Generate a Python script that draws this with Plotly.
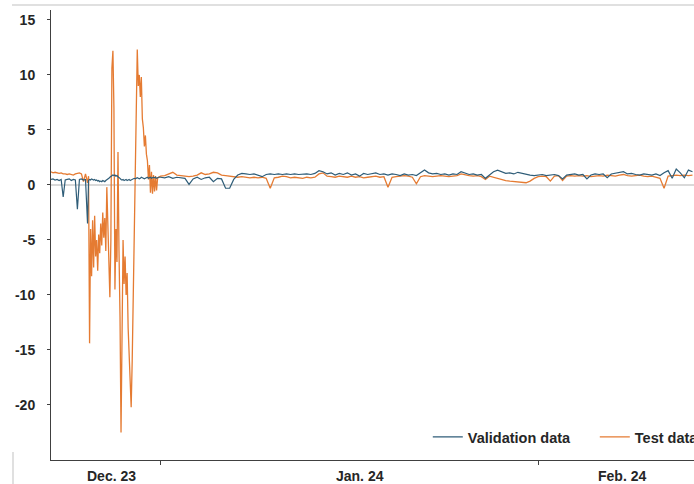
import pandas as pd
import plotly.graph_objects as go

# ---- time index (three sampling segments) ----
t_seg1 = pd.date_range("2023-12-23 00:00", periods=18, freq="4h")
t_seg2 = pd.date_range("2023-12-26 00:00", periods=71, freq="2h")
t_seg3 = pd.date_range("2024-01-01 00:00", periods=132, freq="8h")

# ---- Validation data ----
val_seg1 = [0.5, 0.55, 0.45, 0.5, 0.4, 0.5, -1.1, 0.45, 0.5, 0.55,
            0.4, 0.5, 0.45, -2.2, 0.5, 0.55, 0.45, 0.5]
val_seg2 = [-3.5, 0.4, 0.5, 0.45, 0.55, 0.5, 0.45, 0.5, 0.4, 0.45,
            0.35, 0.4, 0.3, 0.35, 0.3, 0.4, 0.35, 0.3, 0.4, 0.45,
            0.5, 0.6, 0.7, 0.75, 0.85, 0.9, 0.85, 0.9, 0.8, 0.85,
            0.75, 0.7, 0.6, 0.5, 0.45, 0.5, 0.4, 0.45, 0.5, 0.4,
            0.45, 0.5, 0.4, 0.45, 0.5, 0.55, 0.6, 0.55, 0.6, 0.65,
            0.6, 0.55, 0.6, 0.7, 0.65, 0.6, 0.55, 0.6, 0.65, 0.7,
            0.6, 0.65, 0.7, 0.6, 0.65, 0.7, 0.65, 0.7, 0.6, 0.65,
            0.7]
val_seg3 = [0.7, 0.65, 0.75, 0.6, 0.7, 0.65, 0.6, 0.05, 0.55, 0.7,
            0.5, 0.65, 0.7, 0.3, 0.6, 0.55, -0.3, -0.3, 0.5, 0.9,
            1.05, 1.0, 0.95, 1.0, 0.9, 0.75, 0.95, 1.0, 0.95, 1.0,
            0.95, 1.0, 0.95, 1.0, 0.95, 1.0, 1.0, 0.95, 1.05, 1.3,
            1.2, 1.0, 1.1, 0.9, 1.05, 0.95, 1.1, 0.9, 1.0, 0.8,
            1.05, 0.95, 1.0, 1.1, 0.95, 1.0, 0.9, 1.0, 0.95, 0.85,
            1.0, 0.9, 0.95, 0.85, 1.1, 1.35, 1.1, 1.0, 1.05, 0.95,
            1.0, 0.9, 1.0, 0.95, 1.2, 1.1, 0.95, 1.0, 0.9, 0.95,
            0.6, 0.9, 1.2, 1.35, 1.2, 1.05, 1.1, 1.0, 1.15, 1.05,
            0.95, 0.9, 0.85, 0.9, 0.95, 0.85, 0.9, 0.95, 0.85, 0.55,
            0.9, 0.95, 1.0, 0.9, 0.95, 0.55, 0.9, 1.0, 0.95, 1.0,
            0.65, 1.0, 1.05, 1.1, 1.2, 1.0, 1.05, 0.95, 0.9, 1.0,
            0.95, 0.9, 1.0, 0.85, 1.1, 1.3, 0.6, 1.45, 1.1, 0.65,
            1.35, 1.2]

# ---- Test data ----
test_seg1 = [1.2, 1.1, 1.15, 1.1, 1.05, 1.1, 1.0, 1.0, 0.95, 1.0,
             0.95, 0.9, 1.0, 1.05, 1.1, 1.0, 0.3, 1.0]
test_seg2 = [0.2, 0.8, -14.4, -4, -8.3, -3.2, -7.5, -2.8, -6.5, -5,
             -7.8, -4.5, -6.2, -3.5, -5.5, -2.5, -4.8, -3, -6, -0.2,
             -4.5, -7, -10.2, -5, 10.6, 12.2, 7, -9.5, -4, -7,
             3, -6, -12, -22.5, -12, -5, -9, -6.5, -10, -8,
             -13, -15.5, -17, -20.2, -16, -10, -2, 4, 10.5, 12.3,
             9, 10, 8, 9.8, 6, 5.2, 3.5, 4.5, 2.8, 2.2,
             0.5, 1.8, -0.7, 1.2, -0.8, 0.9, -0.6, 0.8, -0.5, 0.6,
             0.7]
test_seg3 = [0.8, 0.85, 1.0, 1.15, 0.9, 0.85, 0.8, 0.75, 0.8, 0.9,
             1.1, 0.95, 1.0, 1.15, 1.1, 0.9, 0.85, 0.8, 0.75, 0.7,
             0.75, 0.7, 0.65, 0.7, 0.65, 0.7, 0.6, -0.3, 0.65, 0.7,
             0.8, 0.75, 0.65, 0.7, 0.65, 0.6, 0.7, 0.65, 0.7, 1.0,
             1.1, 0.8, 0.75, 0.7, 0.8, 0.75, 0.7, 0.8, 0.7, 0.75,
             0.65, 0.7, 0.75, 0.8, 0.7, 0.75, -0.2, 0.7, 0.75, 0.8,
             0.85, 0.8, 0.7, 0.1, 0.75, 0.85, 0.8, 0.75, 0.8, 0.85,
             0.8, 0.75, 0.8, 0.85, 1.0, 0.9, 0.85, 0.8, 0.85, 0.75,
             0.5, 0.8, 0.7, 0.55, 0.45, 0.4, 0.35, 0.3, 0.25, 0.2,
             0.2, 0.35, 0.6, 0.75, 0.8, 0.75, 0.35, 0.8, 0.85, 0.4,
             0.8, 0.85, 0.8, 0.85, 0.8, 0.85, 0.75, 0.8, 0.85, 0.8,
             0.9, 0.85, 0.8, 0.9, 0.95, 0.85, 0.8, 0.85, 0.9, 0.8,
             0.75, 0.8, 0.7, 0.6, -0.3, 0.8, 0.85, 0.9, 0.85, 0.9,
             0.85, 0.9]

series_names = ["Validation data", "Test data"]
y_tick_vals = [-20, -15, -10, -5, 0, 5, 10, 15]
y_tick_text = ["-20", "-15", "-10", "-5", "0", "5", "10", "15"]
month_bounds = ["2024-01-01", "2024-02-01"]
month_labels = ["Dec. 23", "Jan. 24", "Feb. 24"]
month_label_pos = ["2023-12-28 00:00", "2024-01-17 09:00", "2024-02-07 21:00"]

times = list(t_seg1) + list(t_seg2) + list(t_seg3)
validation = val_seg1 + val_seg2 + val_seg3
test = test_seg1 + test_seg2 + test_seg3
assert len(times) == len(validation) == len(test)

VAL_COLOR = "#2f5d78"
TEST_COLOR = "#e57b32"
FONT = "Liberation Sans, Arial, sans-serif"

fig = go.Figure()
fig.add_trace(go.Scatter(x=times, y=test, mode="lines", name=series_names[1],
                         line=dict(color=TEST_COLOR, width=1.3)))
fig.add_trace(go.Scatter(x=times, y=validation, mode="lines", name=series_names[0],
                         line=dict(color=VAL_COLOR, width=1.2)))

annotations = [
    dict(x=pos, y=0, xref="x", yref="paper", yanchor="top", yshift=-6,
         text=lab, showarrow=False,
         font=dict(family=FONT, size=14, color="#262626", weight="bold"))
    for pos, lab in zip(month_label_pos, month_labels)
]

shapes = [
    dict(type="line", xref="paper", yref="paper", x0=-0.0607, x1=1.0,
         y0=1.0111, y1=1.0111, line=dict(color="#d6d6d6", width=1.5)),
    dict(type="line", xref="paper", yref="paper", x0=-0.0591, x1=-0.0591,
         y0=0.0178, y1=-0.06, line=dict(color="#d6d6d6", width=1.5)),
]

fig.update_layout(
    width=694, height=484,
    margin=dict(l=51, r=0, t=10, b=24, autoexpand=False),
    paper_bgcolor="white", plot_bgcolor="white",
    font=dict(family=FONT, size=14, color="#262626", weight="bold"),
    showlegend=True,
    legend=dict(orientation="h", x=0.586, xanchor="left", y=0.051, yanchor="middle",
                bgcolor="rgba(0,0,0,0)", traceorder="reversed",
                entrywidth=122, entrywidthmode="pixels",
                font=dict(family=FONT, size=14.5, color="#262626", weight="bold")),
    xaxis=dict(type="date", range=["2023-12-23 00:00", "2024-02-13 19:00"],
               showline=True, linecolor="#404040", linewidth=1,
               ticks="outside", ticklen=4, tickcolor="#404040",
               tickvals=month_bounds, ticktext=["", ""],
               showgrid=False, zeroline=False),
    yaxis=dict(range=[-25, 15.9], showline=True, linecolor="#404040", linewidth=1,
               ticks="outside", ticklen=3, tickcolor="#404040",
               tickvals=y_tick_vals, ticktext=y_tick_text,
               ticklabelstandoff=9,
               tickfont=dict(family=FONT, size=14, color="#262626", weight="bold"),
               showgrid=False, zeroline=True, zerolinecolor="#d9d9d9", zerolinewidth=1.5),
    annotations=annotations,
    shapes=shapes,
)

fig.write_html("out.html")
